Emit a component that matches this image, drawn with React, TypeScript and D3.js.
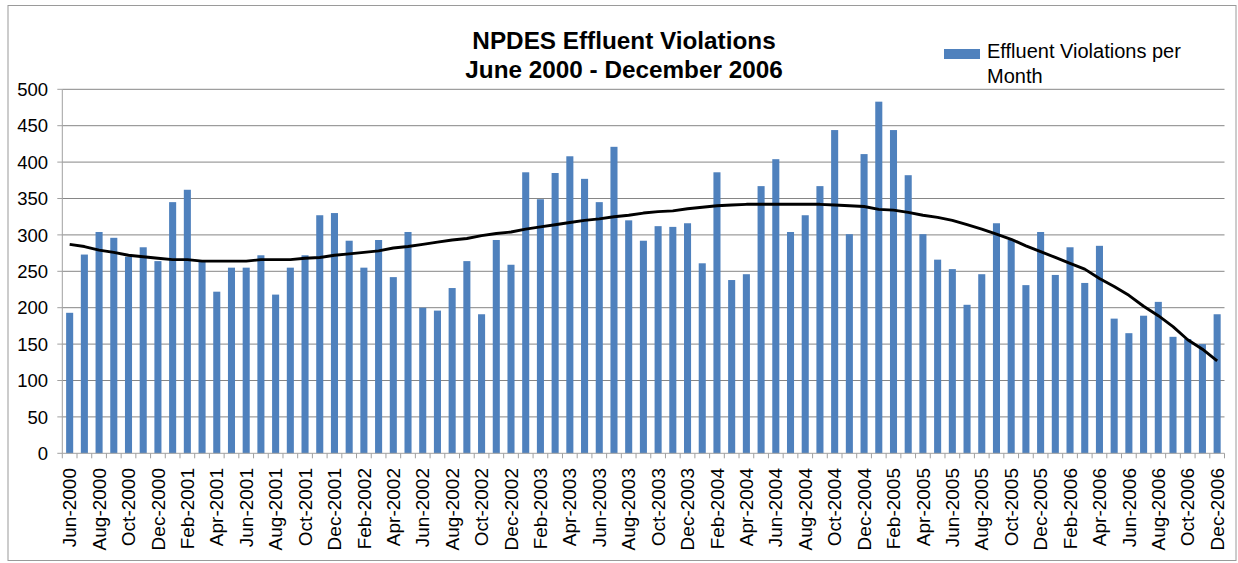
import React from "react";
import * as d3 from "d3";

// months shown on the category axis (Jun 2000 .. Dec 2006)
const months: string[] = [
  "Jun-2000", "Jul-2000", "Aug-2000", "Sep-2000", "Oct-2000", "Nov-2000", "Dec-2000",
  "Jan-2001", "Feb-2001", "Mar-2001", "Apr-2001", "May-2001", "Jun-2001", "Jul-2001", "Aug-2001", "Sep-2001", "Oct-2001", "Nov-2001", "Dec-2001",
  "Jan-2002", "Feb-2002", "Mar-2002", "Apr-2002", "May-2002", "Jun-2002", "Jul-2002", "Aug-2002", "Sep-2002", "Oct-2002", "Nov-2002", "Dec-2002",
  "Jan-2003", "Feb-2003", "Mar-2003", "Apr-2003", "May-2003", "Jun-2003", "Jul-2003", "Aug-2003", "Sep-2003", "Oct-2003", "Nov-2003", "Dec-2003",
  "Jan-2004", "Feb-2004", "Mar-2004", "Apr-2004", "May-2004", "Jun-2004", "Jul-2004", "Aug-2004", "Sep-2004", "Oct-2004", "Nov-2004", "Dec-2004",
  "Jan-2005", "Feb-2005", "Mar-2005", "Apr-2005", "May-2005", "Jun-2005", "Jul-2005", "Aug-2005", "Sep-2005", "Oct-2005", "Nov-2005", "Dec-2005",
  "Jan-2006", "Feb-2006", "Mar-2006", "Apr-2006", "May-2006", "Jun-2006", "Jul-2006", "Aug-2006", "Sep-2006", "Oct-2006", "Nov-2006", "Dec-2006",
];

const violations: number[] = [
  193, 273, 304, 296, 270, 283, 264, 345, 362, 263, 222, 255, 255, 272, 218, 255, 272, 327, 330, 292,
  255, 293, 242, 304, 200, 196, 227, 264, 191, 293, 259, 386, 349, 385, 408, 377, 345, 421, 320, 292,
  312, 311, 316, 261, 386, 238, 246, 367, 404, 304, 327, 367, 444, 301, 411, 483, 444, 382, 301,
  266, 253, 204, 246, 316, 293, 231, 304, 245, 283, 234, 285, 185, 165, 189, 208, 160, 157, 150, 191,
];

// trend line
const trend: number[] = [
  287, 284, 279, 276, 272, 270, 268, 266, 266, 264, 264, 264, 264, 266, 266, 266, 268, 269, 272, 274,
  276, 278, 282, 284, 287, 290, 293, 295, 299, 302, 304, 308, 311, 314, 317, 320, 322, 325, 327, 330,
  332, 333, 336, 338, 340, 341, 342, 342, 342, 342, 342, 342, 341, 340, 339, 335, 334, 331, 327,
  324, 320, 314, 308, 301, 294, 285, 277, 269, 261, 253, 240, 229, 217, 202, 189, 174, 156, 143, 127,
];

const yTicks: number[] = [0, 50, 100, 150, 200, 250, 300, 350, 400, 450, 500];

const W = 1238;
const H = 563;
const left = 62.3;
const right = 1224.5;
const top = 89.3;
const bottom = 453.3;
const FONT = "'Liberation Sans', Arial, sans-serif";

const App: React.FC = () => {
  const x = d3.scaleBand<string>().domain(months).range([left, right]).paddingInner(0.52).paddingOuter(0.26);
  const y = d3.scaleLinear().domain([0, 500]).range([bottom, top]);
  const step = x.step();
  const cx = (m: string) => (x(m) as number) + x.bandwidth() / 2;

  const line = d3
    .line<number>()
    .x((_, i) => cx(months[i]))
    .y((d) => y(d));

  return (
    <svg width={W} height={H} style={{ position: "absolute", left: 0, top: 0, background: "#fff" }}>
      <rect x={8} y={5.5} width={1228} height={555} fill="#fff" stroke="#9a9a9a" strokeWidth={1} />

      {/* gridlines + y labels */}
      {yTicks.map((t) => (
        <g key={t}>
          {t > 0 && <line x1={left} x2={right} y1={y(t)} y2={y(t)} stroke="#868686" strokeWidth={1} />}
          <line x1={left - 5} x2={left} y1={y(t)} y2={y(t)} stroke="#a0a0a0" strokeWidth={1} />
          <text x={48} y={y(t)} dy="0.36em" textAnchor="end" fontFamily={FONT} fontSize={18.5} fill="#000">
            {t}
          </text>
        </g>
      ))}

      {/* bars */}
      {violations.map((v, i) => (
        <rect key={i} x={x(months[i])} y={y(v)} width={x.bandwidth()} height={y(0) - y(v)} fill="#4F81BD" />
      ))}

      {/* axes */}
      <line x1={left} x2={left} y1={top} y2={bottom} stroke="#a0a0a0" strokeWidth={1} />
      <line x1={left} x2={right} y1={bottom} y2={bottom} stroke="#a0a0a0" strokeWidth={1} />
      {d3.range(months.length + 1).map((k) => (
        <line key={k} x1={left + k * step} x2={left + k * step} y1={bottom} y2={bottom + 5} stroke="#a0a0a0" strokeWidth={1} />
      ))}

      {/* trend line */}
      <path d={line(trend) || ""} fill="none" stroke="#000" strokeWidth={2.9} strokeLinejoin="round" />

      {/* x labels, every second month */}
      {months.map((m, i) =>
        i % 2 === 0 ? (
          <text
            key={m}
            transform={`translate(${cx(m)},468) rotate(-90)`}
            dy="0.35em"
            textAnchor="end"
            fontFamily={FONT}
            fontSize={19}
            fill="#000"
          >
            {m}
          </text>
        ) : null
      )}

      {/* title */}
      <text x={624} y={49} textAnchor="middle" fontFamily={FONT} fontSize={24.3} fontWeight="bold">
        NPDES Effluent Violations
      </text>
      <text x={624} y={78} textAnchor="middle" fontFamily={FONT} fontSize={24.3} fontWeight="bold">
        June 2000 - December 2006
      </text>

      {/* legend */}
      <rect x={944} y={49} width={36} height={10} fill="#4F81BD" />
      <text x={987} y={58} fontFamily={FONT} fontSize={20}>
        Effluent Violations per
      </text>
      <text x={987} y={83} fontFamily={FONT} fontSize={20}>
        Month
      </text>
    </svg>
  );
};

export default App;
